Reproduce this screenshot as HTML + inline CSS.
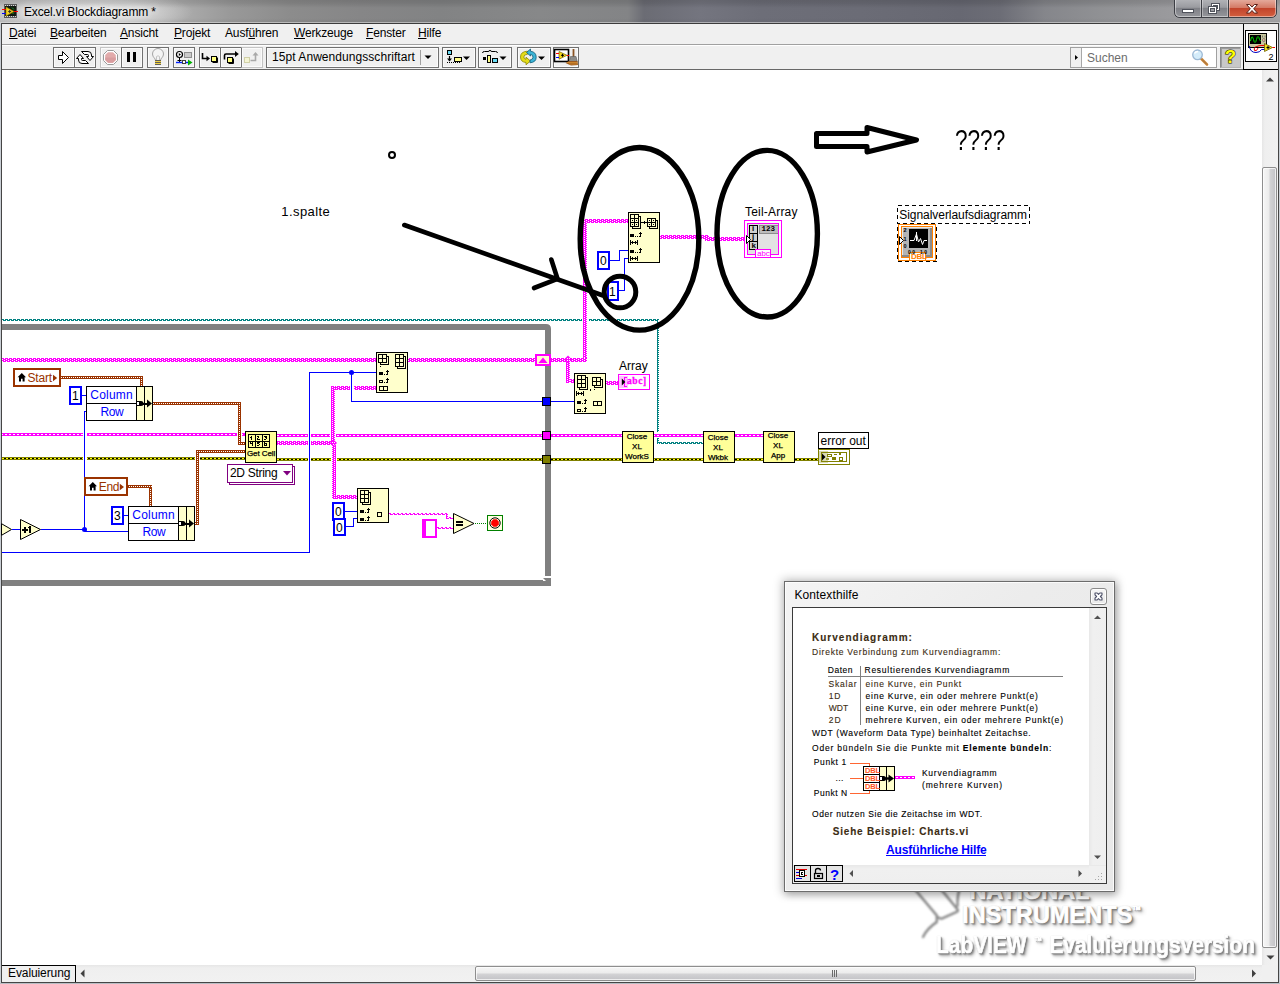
<!DOCTYPE html>
<html lang="de">
<head>
<meta charset="utf-8">
<title>Excel.vi Blockdiagramm</title>
<style>
*{box-sizing:border-box;margin:0;padding:0}
html,body{width:1280px;height:984px;overflow:hidden;background:#fff}
body{position:relative;font-family:"Liberation Sans",sans-serif;font-size:12px;color:#000}
.abs{position:absolute}
.t{position:absolute;white-space:nowrap;line-height:1}
#titlebar{position:absolute;left:0;top:0;width:1280px;height:23px;
 background:
  linear-gradient(to bottom,rgba(0,0,0,.13) 0,rgba(0,0,0,.10) 3px,rgba(0,0,0,0) 8px,rgba(0,0,0,0) 18px,rgba(0,0,0,.06) 23px),
  radial-gradient(ellipse 105px 22px at 88px 12px,rgba(238,238,238,.9) 0,rgba(230,230,230,.6) 55%,rgba(210,210,210,0) 100%),
  linear-gradient(to right,#bdbdbd 0,#b8b8b8 150px,#a9a9a9 190px,#999999 230px,#8c8c8c 290px,#868687 360px,#828384 440px,#878889 540px,#838486 628px,#6b6c74 644px,#74757f 700px,#6d6e78 760px,#6b6c76 860px,#676872 960px,#6c6d76 1000px,#85868b 1045px,#909194 1100px,#9a9a9d 1170px,#a5a5a7 1280px);
}
#tbline1{position:absolute;left:0;top:22px;width:1280px;height:1px;background:rgba(230,230,230,.55)}
#tbline2{position:absolute;left:1px;top:23px;width:1278px;height:1px;background:#3c3c3c}
#lborder0{position:absolute;left:0;top:23px;width:1px;height:961px;background:#c9ced4}
#lborder1{position:absolute;left:1px;top:23px;width:1px;height:961px;background:#454545}
#rborder1{position:absolute;left:1278px;top:23px;width:1px;height:961px;background:#454545}
#rborder0{position:absolute;left:1279px;top:23px;width:1px;height:961px;background:#c9ced4}
#bborder{position:absolute;left:1px;top:982px;width:1278px;height:1px;background:#454545}
#bborder2{position:absolute;left:0;top:983px;width:1280px;height:1px;background:#b9bec4}
#menubar{position:absolute;left:2px;top:24px;width:1276px;height:20px;background:#f0f0f0}
#menusep{position:absolute;left:2px;top:44px;width:1241px;height:1px;background:#a0a0a0}
#menusep2{position:absolute;left:2px;top:45px;width:1241px;height:1px;background:#fff}
#toolbar{position:absolute;left:2px;top:46px;width:1276px;height:23px;background:#f0f0f0}
#tbsep{position:absolute;left:2px;top:69px;width:1276px;height:1px;background:#686868}
.menu{position:absolute;top:27px;font-size:12px;line-height:1;white-space:nowrap;letter-spacing:-.15px}
.menu u{text-decoration:underline;text-underline-offset:1px;text-decoration-thickness:1px}
.btn{position:absolute;top:47px;height:21px;border:1px solid #707070;background:#f0f0f0;box-shadow:inset 1px 1px 0 #fbfbfb,inset -1px -1px 0 #fbfbfb}
.btn.dis{border-color:#c4c4c4}
.wmt{font-weight:bold;color:#fff;-webkit-text-stroke:.7px #fff;text-shadow:1px 1px 1px #7a7a7a,2px 2px 2px #8a8a8a,3px 3px 4px #b0b0b0,0 0 1px #b4b4b4}
</style>
</head>
<body>
<!-- ===== window chrome ===== -->
<div id="titlebar"></div>
<div id="tbline1"></div><div id="tbline2"></div>
<div id="lborder0"></div><div id="lborder1"></div><div id="rborder1"></div><div id="rborder0"></div>
<div id="menubar"></div><div id="menusep"></div><div id="menusep2"></div>
<div id="toolbar"></div><div id="tbsep"></div>
<!-- title icon + text + buttons -->
<svg class="abs" style="left:0;top:0" width="1280" height="24" viewBox="0 0 1280 24">
 <g shape-rendering="crispEdges">
  <rect x="4" y="4" width="13" height="14" fill="#585858"/>
  <rect x="5" y="6" width="11" height="10" fill="#101810"/>
  <g fill="#d8d8d8"><rect x="5" y="5" width="1" height="1"/><rect x="7" y="5" width="1" height="1"/><rect x="9" y="5" width="1" height="1"/><rect x="11" y="5" width="1" height="1"/><rect x="13" y="5" width="1" height="1"/><rect x="15" y="5" width="1" height="1"/>
  <rect x="5" y="16" width="1" height="1"/><rect x="7" y="16" width="1" height="1"/><rect x="9" y="16" width="1" height="1"/><rect x="11" y="16" width="1" height="1"/><rect x="13" y="16" width="1" height="1"/><rect x="15" y="16" width="1" height="1"/></g>
  <rect x="2" y="9" width="4" height="1" fill="#ff0000"/><rect x="2" y="13" width="4" height="1" fill="#0000ff"/>
  <rect x="14" y="11" width="4" height="1" fill="#ff0000"/>
 </g>
 <path d="M6 7 L14 11.5 L6 16 Z" fill="#f0d020" stroke="#a08000" stroke-width=".6"/>
 <path d="M8.2 11.5h3M9.7 10v3" stroke="#303030" stroke-width="1"/>
 <path d="M12 7.5l2 2M12.5 14l1.5-1.5" stroke="#18a018" stroke-width="1"/>
 <!-- caption buttons -->
 <defs>
  <linearGradient id="cbg" x1="0" y1="0" x2="0" y2="1"><stop offset="0" stop-color="#b4b5b9"/><stop offset=".45" stop-color="#9a9ba0"/><stop offset=".5" stop-color="#7f8086"/><stop offset="1" stop-color="#96979c"/></linearGradient>
  <linearGradient id="cbr" x1="0" y1="0" x2="0" y2="1"><stop offset="0" stop-color="#e4a99b"/><stop offset=".45" stop-color="#d47a66"/><stop offset=".5" stop-color="#c2442c"/><stop offset="1" stop-color="#d3603f"/></linearGradient>
 </defs>
 <path d="M1174.5 -1 V12 Q1174.5 17.5 1180 17.5 H1271 Q1276.5 17.5 1276.5 12 V-1 Z" fill="url(#cbg)" stroke="#3d3e44" stroke-width="1"/>
 <path d="M1228.5 0 H1276 V12 Q1276 17 1271 17 H1228.5 Z" fill="url(#cbr)"/>
 <path d="M1175.5 0 V12 Q1175.5 16.5 1180 16.5 H1271 Q1275.500 16.500 1275.500 12 V0" fill="none" stroke="rgba(255,255,255,.45)" stroke-width="1"/>
 <path d="M1201.500 0 V17 M1228.500 0 V17" stroke="#3d3e44" stroke-width="1"/>
 <path d="M1202.500 0 V16 M1229.500 0 V16 M1200.500 0 V16 M1227.500 0 V16" stroke="rgba(255,255,255,.35)" stroke-width="1"/>
 <rect x="1182.500" y="9.500" width="11" height="3" fill="#fff" stroke="#50535c" stroke-width="1"/>
 <g fill="none" stroke="#50535c" stroke-width="1"><rect x="1211.500" y="3.500" width="8" height="7" fill="#fff"/><rect x="1213.500" y="5.500" width="4" height="3" fill="#9c9da2"/>
 <rect x="1208.500" y="6.500" width="8" height="7" fill="#fff"/><rect x="1210.500" y="8.500" width="4" height="3" fill="#9c9da2"/></g>
 <path d="M1246.500 4.500 h3.200 l2.300 2.600 l2.300 -2.600 h3.200 l-3.800 4.300 l3.800 4.300 h-3.200 l-2.300 -2.600 l-2.300 2.600 h-3.200 l3.800 -4.300 z" fill="#fff" stroke="#5a2018" stroke-width="1" stroke-linejoin="round"/>
</svg>
<div class="t" style="left:24px;top:6px;font-size:12px;letter-spacing:-.15px;color:#000;text-shadow:0 0 6px rgba(255,255,255,.9),0 0 10px rgba(255,255,255,.7)">Excel.vi Blockdiagramm *</div>

<div class="menu" id="m_Dat" style="left:9px"><u>D</u>atei</div>
<div class="menu" id="m_Bea" style="left:50px"><u>B</u>earbeiten</div>
<div class="menu" id="m_Ans" style="left:120px"><u>A</u>nsicht</div>
<div class="menu" id="m_Pro" style="left:174px"><u>P</u>rojekt</div>
<div class="menu" id="m_Aus" style="left:225px">Ausf<u>ü</u>hren</div>
<div class="menu" id="m_Wer" style="left:294px"><u>W</u>erkzeuge</div>
<div class="menu" id="m_Fen" style="left:366px"><u>F</u>enster</div>
<div class="menu" id="m_Hil" style="left:418px"><u>H</u>ilfe</div>

<!-- toolbar buttons -->
<div class="btn" style="left:53px;width:22px"></div><div class="btn" style="left:74px;width:22px"></div>
<div class="btn dis" style="left:100px;width:22px"></div><div class="btn" style="left:121px;width:22px"></div>
<div class="btn" style="left:147px;width:22px"></div><div class="btn" style="left:173px;width:22px"></div>
<div class="btn" style="left:199px;width:22px"></div><div class="btn" style="left:220px;width:22px"></div><div class="btn dis" style="left:241px;width:22px;border-left-color:#707070"></div>
<div class="btn" style="left:266px;width:173px"></div>
<div class="btn" style="left:442px;width:34px"></div><div class="btn" style="left:478px;width:34px"></div>
<div class="btn" style="left:517px;width:34px"></div><div class="btn" style="left:553px;width:26px"></div>
<div class="t" id="fonttxt" style="left:272px;top:51px;font-size:12px;letter-spacing:.06px">15pt Anwendungsschriftart</div>
<div class="abs" style="left:1070px;top:47px;width:147px;height:21px;border:1px solid #a0a0a0;background:#fff"></div>
<div class="abs" style="left:1071px;top:48px;width:11px;height:19px;background:#f0f0f0;border-right:1px solid #a8a8a8"></div>
<div class="t" style="left:1087px;top:52px;font-size:12px;color:#6d6d6d">Suchen</div>
<div class="abs" style="left:1220px;top:47px;width:21px;height:21px;background:#c8c8c8;border:1px solid;border-color:#8a8a8a #b4b4b4 #b4b4b4 #8a8a8a;box-shadow:inset 1px 1px 0 #9c9c9c"></div>
<div class="abs" style="left:1243px;top:24px;width:35px;height:46px;background:#f0f0f0;border-left:1px solid #000;border-bottom:1px solid #000"></div>
<div class="abs" style="left:1245px;top:30px;width:32px;height:32px;background:#fff;border:1px solid #000"></div>
<svg class="abs" style="left:0;top:24px" width="1280" height="48" viewBox="0 24 1280 48">
 <!-- run -->
 <path d="M58.500 55.500 H62.500 V51.500 L68.500 57.500 L62.500 63.500 V59.500 H58.500 Z" fill="#fff" stroke="#000" stroke-width="1"/>
 <!-- run continuously -->
 <path d="M81.500 51.500 H88 Q91.500 51.500 91.500 55 V56.500 H93.500 L90 60.500 L86.500 56.500 H88.500 V55.500 Q88.500 54.500 87.500 54.500 H84.500 Z" fill="#fff" stroke="#000" stroke-width="1" stroke-linejoin="round"/>
 <path d="M88.500 63.500 H82 Q78.500 63.500 78.500 60 V58.500 H76.500 L80 54.500 L83.500 58.500 H81.500 V59.500 Q81.500 60.500 82.500 60.500 H85.500 Z" fill="#fff" stroke="#000" stroke-width="1" stroke-linejoin="round"/>
 <!-- abort (disabled) -->
 <path d="M107.500 50.500 H113.500 L117.500 54.500 V60.500 L113.500 64.500 H107.500 L103.500 60.500 V54.500 Z" fill="#fff" stroke="#9a9a9a" stroke-width="1"/>
 <path d="M108 52.200 H113 L115.800 55 V60 L113 62.800 H108 L105.200 60 V55 Z" fill="#e2abab"/>
 <path d="M105.200 57.500 H115.800 V60 L113 62.800 H108 L105.200 60 Z" fill="#d99d9f"/>
 <!-- pause -->
 <rect x="127" y="52" width="3" height="10" fill="#000"/><rect x="133" y="52" width="3" height="10" fill="#000"/>
 <!-- bulb -->
 <path d="M155.500 60.500 C155.500 58 152.500 57.500 152.500 54 A5.500 5.500 0 0 1 163.500 54 C163.500 57.500 160.500 58 160.500 60.500 Z" fill="#f4f4f4" stroke="#a4a4a4" stroke-width="1"/>
 <path d="M156.500 60 V56.500 Q158 55 159.500 56.500 V60" fill="none" stroke="#c4c4c4" stroke-width="1"/>
 <rect x="155" y="60" width="6" height="5" fill="#60605c"/><rect x="155" y="61" width="6" height="1" fill="#f0d040"/><rect x="155" y="63" width="6" height="1" fill="#f0d040"/>
 <!-- retain wire values -->
 <circle cx="179.500" cy="54.500" r="3" fill="#fff" stroke="#000" stroke-width="1.200"/>
 <path d="M178.800 53 L181 54.500 L178.800 56 Z" fill="#000"/>
 <path d="M179.500 57.500 V62 M177.500 60.500 H181.500" stroke="#000" stroke-width="1"/>
 <path d="M176 62.500 H190" stroke="#0020ff" stroke-width="1.400"/>
 <rect x="182.500" y="60.500" width="3" height="3" fill="#fff" stroke="#404040" stroke-width="1"/>
 <path d="M188 59.500 L192.500 62.500 L188 65.500 Z" fill="#00b000"/>
 <rect x="184.500" y="52.500" width="7" height="5" fill="#cacaca" stroke="#909090" stroke-width="1"/>
 <!-- step into -->
 <path d="M202.500 53 V58.500 H207" fill="none" stroke="#000" stroke-width="1.600"/><path d="M206.500 55.800 L210 58.500 L206.500 61.200 Z" fill="#000"/>
 <rect x="211.500" y="56.500" width="5" height="5" fill="#ffff80" stroke="#000" stroke-width="1"/><path d="M212.500 62.500 H217.500 V57.500" fill="none" stroke="#000" stroke-width="1"/>
 <!-- step over -->
 <path d="M224.500 59.500 V55.500 Q224.500 54 226 54 H236" fill="none" stroke="#000" stroke-width="1.600"/><path d="M235 51 L238.800 54 L235 57 Z" fill="#000"/>
 <rect x="227.500" y="57.500" width="5" height="5" fill="#ffff80" stroke="#000" stroke-width="1"/><path d="M228.500 63.500 H233.500 V58.500" fill="none" stroke="#000" stroke-width="1"/>
 <!-- step out disabled -->
 <rect x="244.500" y="57.500" width="5" height="5" fill="#f4f4d4" stroke="#d0d0a8" stroke-width="1"/>
 <path d="M250.500 60.500 H255.500 V55" fill="none" stroke="#a8a8a8" stroke-width="1.600"/><path d="M252.500 55.500 L255.500 52 L258.500 55.500 Z" fill="#a8a8a8"/>
 <!-- font dropdown -->
 <path d="M420.500 50 V65" stroke="#a0a0a0" stroke-width="1"/><path d="M424.500 55.500 H431.500 L428 59 Z" fill="#000"/>
 <!-- align -->
 <rect x="447.500" y="50.500" width="4" height="4" fill="#66d9f2" stroke="#000" stroke-width="1"/>
 <path d="M449.500 56 V61" stroke="#000" stroke-width="1.200"/><path d="M447 58.500 H452 L449.500 61.500 Z" fill="#000"/>
 <path d="M447 62.500 H460" stroke="#000" stroke-width="1" stroke-dasharray="1 1"/>
 <rect x="454.500" y="57.500" width="7" height="4" fill="#ffff8a" stroke="#000" stroke-width="1"/>
 <path d="M463 56.500 H470 L466.500 60 Z" fill="#000"/>
 <!-- distribute -->
 <path d="M482.500 53 Q482.500 51.500 484.500 51.500 H488 Q489.500 51.500 490 50 Q490.500 51.500 492 51.500 H495.500 Q497.500 51.500 497.500 53" fill="none" stroke="#000" stroke-width="1"/>
 <rect x="483" y="57" width="3" height="3" fill="#000"/>
 <rect x="487.500" y="55.500" width="3" height="7" fill="#ffff8a" stroke="#000" stroke-width="1"/>
 <rect x="492.500" y="58.500" width="5" height="4" fill="#66d9f2" stroke="#000" stroke-width="1"/>
 <path d="M499.500 56.500 H506.500 L503 60 Z" fill="#000"/>
 <!-- reorder -->
 <path d="M527.500 51.200 Q520.500 51.500 520.500 57 Q520.500 62 526 62.500 V64.800 L530.500 61 L526 57.200 V59.300 Q523.800 59 523.800 57 Q523.800 54.500 527.500 54.300 Z" fill="#e4dc18" stroke="#8a8400" stroke-width=".8" stroke-linejoin="round"/>
 <path d="M530.500 49 L526.500 52.500 L530.500 56 V54.300 Q533 54.800 533 57.200 Q533 59.600 530 60 V62.800 Q536.200 62.300 536.200 57.200 Q536.200 52 530.500 51.200 Z" fill="#3cb4d6" stroke="#0c5c78" stroke-width=".8" stroke-linejoin="round"/>
 <path d="M538 56.500 H545 L541.500 60 Z" fill="#000"/>
 <!-- cleanup -->
 <rect x="554.500" y="49.500" width="14" height="12" fill="#fff" stroke="#000" stroke-width="1.600"/>
 <path d="M559 51.500 L567 55.300 L559 59.200 Z" fill="#f2d81c" stroke="#7c6400" stroke-width=".7"/>
 <path d="M556 53.500 H559" stroke="#f00" stroke-width="1"/><path d="M556 57.500 H559" stroke="#00f" stroke-width="1"/><path d="M567 55.500 H569" stroke="#f00" stroke-width="1"/>
 <path d="M561 55.300h3M562.500 53.800v3" stroke="#000" stroke-width="1"/>
 <path d="M573.500 49 V57" stroke="#8a5424" stroke-width="1.800"/>
 <path d="M570.500 56.500 H576 L577.300 61.500 L569 62 Z" fill="#8c8c8a" stroke="#5a5a5a" stroke-width=".6"/>
 <path d="M569 61 L577.500 61 L578 65 L571 65.500 L565.500 63 Z" fill="#9c5a20"/>
 <path d="M567 62.500 L577 62.500 M569 64 L577.500 64" stroke="#d89030" stroke-width=".8"/>
 <!-- search arrow + magnifier -->
 <path d="M1075 55 L1078 57.500 L1075 60 Z" fill="#000"/>
 <path d="M1201 58.500 L1207 64.500" stroke="#d08838" stroke-width="2.600" stroke-linecap="round"/>
 <path d="M1201.800 59.300 L1207 64.500" stroke="#8a6a48" stroke-width=".8"/>
 <circle cx="1197.500" cy="54.800" r="4.800" fill="#d4ecfa" stroke="#9cb8d4" stroke-width="1.300"/>
 <path d="M1194.500 53.500 Q1195.500 51.500 1198 51.500" stroke="#fff" stroke-width="1.400" fill="none"/>
 <!-- help ? -->
 <text x="1230.500" y="63.300" font-family="Liberation Sans, sans-serif" font-weight="bold" font-size="18.500" text-anchor="middle" fill="#ffff00" stroke="#202000" stroke-width="1.100" paint-order="stroke">?</text>
 <!-- VI icon -->
 <rect x="1248.500" y="33.500" width="18" height="14" fill="#c8c8a0" stroke="#000" stroke-width="1"/>
 <rect x="1250" y="35" width="11" height="9" fill="#000"/>
 <path d="M1250.500 41 Q1252 33.500 1253.500 39.500 Q1255 45.500 1256.500 39.500 Q1258 33.500 1259.500 39.500 L1260.500 41" fill="none" stroke="#00e000" stroke-width="1"/>
 <ellipse cx="1263.800" cy="40" rx="1.200" ry="1.700" fill="#f0c0a0" stroke="#505050" stroke-width=".6"/><path d="M1262.500 35.500v2M1265 35.500v2" stroke="#505050" stroke-width=".7"/>
 <path d="M1249.500 46 Q1250 52.500 1256 52.500 Q1260 52.500 1261.500 49.500 H1265" fill="none" stroke="#0000c0" stroke-width="1"/>
 <path d="M1254.500 50.500 Q1253.500 47 1257 46.500 Q1259 45.500 1261 45.500 H1265 M1254.500 50.500 Q1257 51.500 1258 48" fill="none" stroke="#f00000" stroke-width="1"/>
 <path d="M1264.500 43.500 L1272.500 47.500 L1264.500 51.500 Z" fill="#f0e020" stroke="#706000" stroke-width=".8"/>
 <path d="M1266.500 47.500h3M1268 46v3" stroke="#000" stroke-width="1"/>
 <path d="M1272.500 47.500 H1275" stroke="#f00000" stroke-width="1"/>
 <text x="1268.500" y="59.500" font-family="Liberation Sans, sans-serif" font-size="9" fill="#000">2</text>
</svg>

<!-- scrollbars -->
<div class="abs" style="left:1262px;top:70px;width:16px;height:895px;background:linear-gradient(to right,#e6e6e6 0,#efefef 3px,#f1f1f1 100%)"></div>
<div class="abs" style="left:1262px;top:167px;width:15px;height:781px;border:1px solid #8e8e8e;border-radius:2px;background:linear-gradient(to right,#f6f6f6 0,#ececec 45%,#d2d2d4 55%,#c2c2c6 100%);box-shadow:inset 0 0 0 1px rgba(255,255,255,.7)"></div>
<div class="abs" style="left:2px;top:965px;width:1276px;height:17px;background:linear-gradient(to bottom,#e6e6e6 0,#efefef 3px,#f1f1f1 100%)"></div>
<div class="abs" style="left:1262px;top:965px;width:16px;height:17px;background:#f0f0f0"></div>
<div class="abs" style="left:475px;top:966px;width:721px;height:15px;border:1px solid #8e8e8e;border-radius:2px;background:linear-gradient(to bottom,#f6f6f6 0,#ececec 45%,#d2d2d4 55%,#c2c2c6 100%);box-shadow:inset 0 0 0 1px rgba(255,255,255,.7)"></div>
<div class="abs" style="left:2px;top:965px;width:74px;height:17px;background:#f0f0f0;border-top:1px solid #000;border-right:1px solid #000"></div>
<div class="t" id="evaltxt" style="left:8px;top:967px;font-size:12px;letter-spacing:-.1px">Evaluierung</div>
<svg class="abs" style="left:0;top:70px" width="1280" height="914" viewBox="0 70 1280 914">
 <path d="M1266 81.500 L1270 77.500 L1274 81.500 Z" fill="#404040"/>
 <path d="M1266.500 955.500 L1274.500 955.500 L1270.500 959.500 Z" fill="#404040"/>
 <path d="M84.500 969.500 L80.500 973.500 L84.500 977.500 Z" fill="#404040"/>
 <path d="M1252 969.500 L1256 973.500 L1252 977.500 Z" fill="#404040"/>
 <path d="M832.500 970 V977 M834.500 970 V977 M836.500 970 V977" stroke="#6a6a6a" stroke-width="1"/>
</svg>

<!--DIAGRAM-START-->
<svg class="abs" style="left:0;top:70px" width="1262" height="895" viewBox="0 70 1262 895" shape-rendering="crispEdges">
<defs>
<pattern id="p2h0" width="4" height="2" patternUnits="userSpaceOnUse"><rect width="4" height="2" fill="#ff00ff"/><rect x="0" y="0" width="1" height="1" fill="#fff"/><rect x="2" y="1" width="1" height="1" fill="#fff"/></pattern>
<pattern id="p2h1" width="4" height="2" patternUnits="userSpaceOnUse" patternTransform="translate(0 1)"><rect width="4" height="2" fill="#ff00ff"/><rect x="0" y="0" width="1" height="1" fill="#fff"/><rect x="2" y="1" width="1" height="1" fill="#fff"/></pattern>
<pattern id="p2v" width="2" height="4" patternUnits="userSpaceOnUse"><rect width="2" height="4" fill="#ff00ff"/><rect x="0" y="0" width="1" height="1" fill="#fff"/><rect x="1" y="2" width="1" height="1" fill="#fff"/></pattern>
<pattern id="pth" width="4" height="2" patternUnits="userSpaceOnUse" patternTransform="translate(0 1)"><rect width="4" height="2" fill="#008080"/><rect x="0" y="0" width="1" height="1" fill="#fff"/><rect x="2" y="1" width="1" height="1" fill="#fff"/></pattern>
<pattern id="ptv" width="2" height="2" patternUnits="userSpaceOnUse" patternTransform="translate(1 0)"><rect width="2" height="2" fill="#008080"/><rect x="1" y="1" width="1" height="1" fill="#fff"/></pattern>
<pattern id="psh" width="4" height="2" patternUnits="userSpaceOnUse" patternTransform="translate(1 1)"><rect width="4" height="2" fill="#fff"/><rect x="0" y="0" width="2" height="1" fill="#ff00ff"/><rect x="1" y="1" width="1" height="1" fill="#ff00ff"/><rect x="2" y="1" width="2" height="1" fill="#ff00ff"/><rect x="3" y="0" width="1" height="1" fill="#ff00ff" opacity=".0"/></pattern>
<pattern id="psv" width="2" height="2" patternUnits="userSpaceOnUse"><rect width="2" height="2" fill="#ff00ff"/><rect x="1" y="1" width="1" height="1" fill="#fff"/></pattern>
<pattern id="p2v3" width="4" height="2" patternUnits="userSpaceOnUse" patternTransform="translate(3 0)"><rect width="4" height="2" fill="#ff00ff"/><rect x="1" y="1" width="1" height="1" fill="#fff"/><rect x="3" y="0" width="1" height="1" fill="#fff"/></pattern>
<pattern id="p2v2" width="4" height="2" patternUnits="userSpaceOnUse" patternTransform="translate(2 0)"><rect width="4" height="2" fill="#ff00ff"/><rect x="1" y="1" width="1" height="1" fill="#fff"/><rect x="3" y="0" width="1" height="1" fill="#fff"/></pattern>
<pattern id="p2v0m" width="4" height="2" patternUnits="userSpaceOnUse" patternTransform="translate(0 0)"><rect width="4" height="2" fill="#ff00ff"/><rect x="2" y="1" width="1" height="1" fill="#fff"/><rect x="0" y="0" width="1" height="1" fill="#fff"/></pattern>
</defs>
<rect x="2" y="319" width="580" height="2" fill="url(#pth)"/>
<rect x="589" y="319" width="70" height="2" fill="url(#pth)"/>
<rect x="657" y="321" width="2" height="111" fill="url(#ptv)"/>
<rect x="657" y="438" width="2" height="6" fill="url(#ptv)"/>
<rect x="659" y="442" width="44" height="2" fill="url(#pth)"/>
<rect x="2" y="358" width="374" height="4" fill="url(#p2h0)"/>
<rect x="408" y="358" width="127" height="4" fill="url(#p2h0)"/>
<rect x="551" y="358" width="36" height="4" fill="url(#p2h0)"/>
<rect x="583" y="219" width="4" height="139" fill="url(#p2v3)"/>
<rect x="587" y="219" width="41" height="4" fill="url(#p2h1)"/>
<rect x="660" y="235" width="49" height="4" fill="url(#p2h1)"/>
<rect x="705" y="237" width="39" height="4" fill="url(#p2h1)"/>
<rect x="566" y="362" width="4" height="21" fill="url(#p2v2)"/>
<rect x="570" y="379" width="4" height="4" fill="url(#p2h1)"/>
<path d="M564 359.500 L568 355.500 L572 359.500 L568 363.500 Z" fill="#ff00ff" shape-rendering="auto"/>
<rect x="606" y="381" width="12" height="4" fill="url(#p2h1)"/>
<rect x="567" y="358" width="1" height="1" fill="#fff"/>
<rect x="569" y="360" width="1" height="1" fill="#fff"/>
<rect x="567" y="360" width="1" height="1" fill="#fff"/>
<rect x="569" y="358" width="1" height="1" fill="#fff"/>
<rect x="2" y="433" width="81" height="3" fill="#ff00ff"/>
<path d="M2 434.5 H83" stroke="#fff" stroke-width="1" stroke-dasharray="2 2" stroke-dashoffset="1"/>
<rect x="87" y="433" width="150" height="3" fill="#ff00ff"/>
<path d="M87 434.5 H237" stroke="#fff" stroke-width="1" stroke-dasharray="2 2" stroke-dashoffset="2"/>
<rect x="242" y="433" width="3" height="3" fill="#ff00ff"/>
<path d="M242 434.5 H245" stroke="#fff" stroke-width="1" stroke-dasharray="2 2" stroke-dashoffset="1"/>
<rect x="277" y="434" width="31" height="3" fill="#ff00ff"/>
<path d="M277 435.5 H308" stroke="#fff" stroke-width="1" stroke-dasharray="2 2" stroke-dashoffset="0"/>
<rect x="311" y="434" width="19" height="3" fill="#ff00ff"/>
<path d="M311 435.5 H330" stroke="#fff" stroke-width="1" stroke-dasharray="2 2" stroke-dashoffset="2"/>
<rect x="336" y="434" width="206" height="3" fill="#ff00ff"/>
<path d="M336 435.5 H542" stroke="#fff" stroke-width="1" stroke-dasharray="2 2" stroke-dashoffset="3"/>
<rect x="551" y="434" width="71" height="3" fill="#ff00ff"/>
<path d="M551 435.5 H622" stroke="#fff" stroke-width="1" stroke-dasharray="2 2" stroke-dashoffset="2"/>
<rect x="654" y="434" width="49" height="3" fill="#ff00ff"/>
<path d="M654 435.5 H703" stroke="#fff" stroke-width="1" stroke-dasharray="2 2" stroke-dashoffset="1"/>
<rect x="735" y="434" width="28" height="3" fill="#ff00ff"/>
<path d="M735 435.5 H763" stroke="#fff" stroke-width="1" stroke-dasharray="2 2" stroke-dashoffset="2"/>
<rect x="277" y="441" width="31" height="4" fill="url(#p2h1)"/>
<rect x="311" y="441" width="24" height="4" fill="url(#p2h1)"/>
<rect x="331" y="386" width="4" height="55" fill="url(#p2v3)"/>
<rect x="335" y="386" width="15" height="4" fill="url(#p2h0)"/>
<rect x="354" y="386" width="22" height="4" fill="url(#p2h0)"/>
<rect x="332" y="445" width="4" height="54" fill="url(#p2v0m)"/>
<rect x="336" y="495" width="21" height="4" fill="url(#p2h1)"/>
<path d="M330 443 L333.500 439.500 L337 443 L333.500 446.500 Z" fill="#ff00ff" shape-rendering="auto"/>
<rect x="332" y="442" width="1" height="1" fill="#fff"/>
<rect x="334" y="442" width="1" height="1" fill="#fff"/>
<rect x="333" y="444" width="1" height="1" fill="#fff"/>
<rect x="2" y="457" width="81" height="3" fill="#808000"/>
<rect x="2" y="458" width="81" height="1" fill="#000"/>
<path d="M2 458.5 H83" stroke="#ffff00" stroke-width="1" stroke-dasharray="2 2" stroke-dashoffset="0"/>
<rect x="87" y="457" width="108" height="3" fill="#808000"/>
<rect x="87" y="458" width="108" height="1" fill="#000"/>
<path d="M87 458.5 H195" stroke="#ffff00" stroke-width="1" stroke-dasharray="2 2" stroke-dashoffset="1"/>
<rect x="200" y="457" width="45" height="3" fill="#808000"/>
<rect x="200" y="458" width="45" height="1" fill="#000"/>
<path d="M200 458.5 H245" stroke="#ffff00" stroke-width="1" stroke-dasharray="2 2" stroke-dashoffset="2"/>
<rect x="277" y="458" width="31" height="3" fill="#808000"/>
<rect x="277" y="459" width="31" height="1" fill="#000"/>
<path d="M277 459.5 H308" stroke="#ffff00" stroke-width="1" stroke-dasharray="2 2" stroke-dashoffset="0"/>
<rect x="311" y="458" width="20" height="3" fill="#808000"/>
<rect x="311" y="459" width="20" height="1" fill="#000"/>
<path d="M311 459.5 H331" stroke="#ffff00" stroke-width="1" stroke-dasharray="2 2" stroke-dashoffset="2"/>
<rect x="337" y="458" width="205" height="3" fill="#808000"/>
<rect x="337" y="459" width="205" height="1" fill="#000"/>
<path d="M337 459.5 H542" stroke="#ffff00" stroke-width="1" stroke-dasharray="2 2" stroke-dashoffset="0"/>
<rect x="551" y="458" width="71" height="3" fill="#808000"/>
<rect x="551" y="459" width="71" height="1" fill="#000"/>
<path d="M551 459.5 H622" stroke="#ffff00" stroke-width="1" stroke-dasharray="2 2" stroke-dashoffset="2"/>
<rect x="654" y="458" width="49" height="3" fill="#808000"/>
<rect x="654" y="459" width="49" height="1" fill="#000"/>
<path d="M654 459.5 H703" stroke="#ffff00" stroke-width="1" stroke-dasharray="2 2" stroke-dashoffset="1"/>
<rect x="735" y="458" width="28" height="3" fill="#808000"/>
<rect x="735" y="459" width="28" height="1" fill="#000"/>
<path d="M735 459.5 H763" stroke="#ffff00" stroke-width="1" stroke-dasharray="2 2" stroke-dashoffset="2"/>
<rect x="795" y="458" width="23" height="3" fill="#808000"/>
<rect x="795" y="459" width="23" height="1" fill="#000"/>
<path d="M795 459.5 H818" stroke="#ffff00" stroke-width="1" stroke-dasharray="2 2" stroke-dashoffset="2"/>
<rect x="61" y="376" width="82" height="3" fill="#9a3300"/>
<path d="M61 377.5 H143" stroke="#fff" stroke-width="1" stroke-dasharray="1 1" stroke-dashoffset="0"/>
<rect x="140" y="379" width="3" height="7" fill="#9a3300"/>
<path d="M141.5 379 V386" stroke="#fff" stroke-width="1" stroke-dasharray="1 1" stroke-dashoffset="0"/>
<rect x="153" y="402" width="88" height="3" fill="#9a3300"/>
<path d="M153 403.5 H241" stroke="#fff" stroke-width="1" stroke-dasharray="1 1" stroke-dashoffset="0"/>
<rect x="238" y="405" width="3" height="40" fill="#9a3300"/>
<path d="M239.5 405 V445" stroke="#fff" stroke-width="1" stroke-dasharray="1 1" stroke-dashoffset="0"/>
<rect x="241" y="442" width="4" height="3" fill="#9a3300"/>
<path d="M241 443.5 H245" stroke="#fff" stroke-width="1" stroke-dasharray="1 1" stroke-dashoffset="0"/>
<rect x="128" y="485" width="24" height="3" fill="#9a3300"/>
<path d="M128 486.5 H152" stroke="#fff" stroke-width="1" stroke-dasharray="1 1" stroke-dashoffset="1"/>
<rect x="149" y="488" width="3" height="18" fill="#9a3300"/>
<path d="M150.5 488 V506" stroke="#fff" stroke-width="1" stroke-dasharray="1 1" stroke-dashoffset="1"/>
<rect x="195" y="522" width="4" height="3" fill="#9a3300"/>
<path d="M195 523.5 H199" stroke="#fff" stroke-width="1" stroke-dasharray="1 1" stroke-dashoffset="0"/>
<rect x="196" y="450" width="3" height="72" fill="#9a3300"/>
<path d="M197.5 450 V522" stroke="#fff" stroke-width="1" stroke-dasharray="1 1" stroke-dashoffset="1"/>
<rect x="199" y="450" width="46" height="3" fill="#9a3300"/>
<path d="M199 451.5 H245" stroke="#fff" stroke-width="1" stroke-dasharray="1 1" stroke-dashoffset="0"/>
<rect x="82" y="395" width="4" height="1" fill="#0000ff"/>
<rect x="84" y="411" width="1" height="119" fill="#0000ff"/>
<rect x="85" y="411" width="1" height="1" fill="#0000ff"/>
<rect x="12" y="529" width="8" height="1" fill="#0000ff"/>
<rect x="41" y="529" width="44" height="1" fill="#0000ff"/>
<circle cx="84.5" cy="529.5" r="2.5" fill="#0000ff" shape-rendering="auto"/>
<rect x="85" y="531" width="43" height="1" fill="#0000ff"/>
<rect x="85" y="530" width="1" height="2" fill="#0000ff"/>
<rect x="124" y="515" width="4" height="1" fill="#0000ff"/>
<rect x="2" y="552" width="308" height="1" fill="#0000ff"/>
<rect x="309" y="372" width="1" height="181" fill="#0000ff"/>
<rect x="309" y="372" width="67" height="1" fill="#0000ff"/>
<circle cx="351.5" cy="372.5" r="2.5" fill="#0000ff" shape-rendering="auto"/>
<rect x="351" y="373" width="1" height="29" fill="#0000ff"/>
<rect x="351" y="401" width="191" height="1" fill="#0000ff"/>
<rect x="551" y="401" width="23" height="1" fill="#0000ff"/>
<rect x="345" y="511" width="12" height="1" fill="#0000ff"/>
<rect x="346" y="526" width="8" height="1" fill="#0000ff"/>
<rect x="353" y="518" width="1" height="9" fill="#0000ff"/>
<rect x="353" y="518" width="4" height="1" fill="#0000ff"/>
<rect x="610" y="260" width="10" height="1" fill="#0000ff"/>
<rect x="619" y="250" width="1" height="11" fill="#0000ff"/>
<rect x="619" y="250" width="9" height="1" fill="#0000ff"/>
<rect x="624" y="258" width="4" height="1" fill="#0000ff"/>
<rect x="624" y="258" width="1" height="33" fill="#0000ff"/>
<rect x="619" y="290" width="6" height="1" fill="#0000ff"/>
<rect x="389" y="513" width="59" height="2" fill="url(#psh)"/>
<rect x="446" y="514" width="2" height="5" fill="url(#psv)"/>
<rect x="447" y="517" width="6" height="2" fill="url(#psh)"/>
<rect x="437" y="527" width="16" height="2" fill="url(#psh)"/>
<path d="M475 523.500 H487" stroke="#008000" stroke-width="1" stroke-dasharray="1 1"/>
<path d="M2 324 H546 Q551 324 551 329 V576 H545 V330 H2 Z" fill="#808080" shape-rendering="auto"/>
<rect x="2" y="580" width="549" height="6" fill="#808080"/>
<rect x="543" y="578" width="8" height="8" fill="#808080"/>
<path d="M543 578 L546 581 L543 581 Z" fill="#fff" shape-rendering="auto"/>
<rect x="536" y="355" width="14" height="10" fill="#ffffcc" stroke="#ff00ff" stroke-width="2"/>
<path d="M538.500 363 L543 357.500 L547.500 363 Z" fill="#ff00ff" shape-rendering="auto"/>
<rect x="542.5" y="397.5" width="8" height="8" fill="#0000ff" stroke="#000" stroke-width="1"/>
<rect x="542.5" y="431.5" width="8" height="8" fill="#ff00ff" stroke="#000" stroke-width="1"/>
<rect x="542.5" y="455.5" width="8" height="8" fill="#808000" stroke="#000" stroke-width="1"/>
<rect x="14" y="369" width="46" height="17" fill="#fff" stroke="#9a3300" stroke-width="2"/>
<rect x="85" y="478" width="42" height="17" fill="#fff" stroke="#9a3300" stroke-width="2"/>
<path d="M17.6 377.2 l4.200 -4.300 l4.200 4.300 h-1.400 v4.200 h-2 v-2.600 h-1.600 v2.600 h-2 v-4.200 Z" fill="#000" shape-rendering="auto"/>
<path d="M88.6 486.2 l4.200 -4.300 l4.200 4.300 h-1.400 v4.200 h-2 v-2.600 h-1.600 v2.600 h-2 v-4.200 Z" fill="#000" shape-rendering="auto"/>
<path d="M53 374.800 L57.200 378 L53 381.200 Z" fill="#9a3300" shape-rendering="auto"/>
<path d="M119.800 483.800 L124 487 L119.800 490.200 Z" fill="#9a3300" shape-rendering="auto"/>
<rect x="70" y="387" width="11" height="17" fill="#fff" stroke="#0000ff" stroke-width="2"/>
<rect x="112" y="507" width="11" height="17" fill="#fff" stroke="#0000ff" stroke-width="2"/>
<rect x="333" y="503" width="11" height="17" fill="#fff" stroke="#0000ff" stroke-width="2"/>
<rect x="334" y="519" width="11" height="16" fill="#fff" stroke="#0000ff" stroke-width="2"/>
<rect x="598" y="252" width="11" height="17" fill="#fff" stroke="#0000ff" stroke-width="2"/>
<rect x="608" y="282" width="10" height="18" fill="#fff" stroke="#0000ff" stroke-width="2"/>
<rect x="86.5" y="386.5" width="66" height="34" fill="#fff" stroke="#000" stroke-width="1"/>
<rect x="137" y="387" width="15" height="33" fill="#ffffcc"/>
<rect x="136" y="386" width="1" height="35" fill="#000"/>
<rect x="144" y="386" width="1" height="35" fill="#000"/>
<rect x="86" y="403" width="51" height="1" fill="#000"/>
<path d="M137 401 h4 q2.500 0 2.500 2.500 q0 2.500 -2.500 2.500 h-4 Z" fill="#000" shape-rendering="auto"/>
<rect x="137" y="402" width="2" height="3" fill="#fff"/>
<rect x="143" y="402.5" width="6" height="2" fill="#000"/>
<path d="M147 399.5 l5 4 l-5 4 Z" fill="#000" shape-rendering="auto"/>
<rect x="128.5" y="506.5" width="66" height="34" fill="#fff" stroke="#000" stroke-width="1"/>
<rect x="179" y="507" width="15" height="33" fill="#ffffcc"/>
<rect x="178" y="506" width="1" height="35" fill="#000"/>
<rect x="186" y="506" width="1" height="35" fill="#000"/>
<rect x="128" y="523" width="51" height="1" fill="#000"/>
<path d="M179 521 h4 q2.500 0 2.500 2.500 q0 2.500 -2.500 2.500 h-4 Z" fill="#000" shape-rendering="auto"/>
<rect x="179" y="522" width="2" height="3" fill="#fff"/>
<rect x="185" y="522.5" width="6" height="2" fill="#000"/>
<path d="M189 519.5 l5 4 l-5 4 Z" fill="#000" shape-rendering="auto"/>
<path d="M1.500 523.700 L11.500 529.500 L1.500 535.300 Z" fill="#ffffcc" stroke="#000" stroke-width="1" shape-rendering="auto"/>
<path d="M20.500 519.500 L40.500 529.500 L20.500 539.500 Z" fill="#ffffcc" stroke="#000" stroke-width="1" shape-rendering="auto"/>
<rect x="22" y="529" width="6" height="2" fill="#000"/>
<rect x="24" y="527" width="2" height="6" fill="#000"/>
<rect x="29" y="526" width="2" height="7" fill="#000"/>
<rect x="28" y="527" width="1" height="1" fill="#000"/>
<rect x="245.5" y="431.5" width="31" height="31" fill="#ffff99" stroke="#000" stroke-width="1"/>
<path d="M248.5 434 V448M255.5 434 V448M262.5 434 V448M269.5 434 V448M248 434.5 H270M248 441.5 H270M248 447.5 H270" fill="none" stroke="#000" stroke-width="1"/>
<rect x="251" y="436" width="1" height="1" fill="#000"/>
<rect x="250" y="437" width="1" height="1" fill="#000"/>
<rect x="251" y="437" width="1" height="1" fill="#000"/>
<rect x="251" y="438" width="1" height="1" fill="#000"/>
<rect x="251" y="439" width="1" height="1" fill="#000"/>
<rect x="257" y="436" width="1" height="1" fill="#000"/>
<rect x="258" y="436" width="1" height="1" fill="#000"/>
<rect x="258" y="437" width="1" height="1" fill="#000"/>
<rect x="257" y="438" width="1" height="1" fill="#000"/>
<rect x="257" y="439" width="1" height="1" fill="#000"/>
<rect x="258" y="439" width="1" height="1" fill="#000"/>
<rect x="259" y="439" width="1" height="1" fill="#000"/>
<rect x="264" y="436" width="1" height="1" fill="#000"/>
<rect x="265" y="436" width="1" height="1" fill="#000"/>
<rect x="266" y="436" width="1" height="1" fill="#000"/>
<rect x="265" y="437" width="1" height="1" fill="#000"/>
<rect x="266" y="437" width="1" height="1" fill="#000"/>
<rect x="266" y="438" width="1" height="1" fill="#000"/>
<rect x="264" y="439" width="1" height="1" fill="#000"/>
<rect x="265" y="439" width="1" height="1" fill="#000"/>
<rect x="250" y="442" width="1" height="1" fill="#000"/>
<rect x="252" y="442" width="1" height="1" fill="#000"/>
<rect x="250" y="443" width="1" height="1" fill="#000"/>
<rect x="251" y="443" width="1" height="1" fill="#000"/>
<rect x="252" y="443" width="1" height="1" fill="#000"/>
<rect x="252" y="444" width="1" height="1" fill="#000"/>
<rect x="252" y="445" width="1" height="1" fill="#000"/>
<rect x="257" y="442" width="1" height="1" fill="#000"/>
<rect x="258" y="442" width="1" height="1" fill="#000"/>
<rect x="259" y="442" width="1" height="1" fill="#000"/>
<rect x="257" y="443" width="1" height="1" fill="#000"/>
<rect x="258" y="443" width="1" height="1" fill="#000"/>
<rect x="259" y="444" width="1" height="1" fill="#000"/>
<rect x="257" y="445" width="1" height="1" fill="#000"/>
<rect x="258" y="445" width="1" height="1" fill="#000"/>
<rect x="264" y="442" width="1" height="1" fill="#000"/>
<rect x="264" y="443" width="1" height="1" fill="#000"/>
<rect x="265" y="443" width="1" height="1" fill="#000"/>
<rect x="266" y="443" width="1" height="1" fill="#000"/>
<rect x="264" y="444" width="1" height="1" fill="#000"/>
<rect x="266" y="444" width="1" height="1" fill="#000"/>
<rect x="264" y="445" width="1" height="1" fill="#000"/>
<rect x="265" y="445" width="1" height="1" fill="#000"/>
<rect x="266" y="445" width="1" height="1" fill="#000"/>
<rect x="229.5" y="466.5" width="65" height="18" fill="#fff" stroke="#800080" stroke-width="1"/>
<rect x="227.5" y="464.5" width="65" height="18" fill="#fff" stroke="#800080" stroke-width="1"/>
<path d="M283 471 H291 L287 475.500 Z" fill="#800080" shape-rendering="auto"/>
<rect x="376.5" y="352.5" width="31" height="40" fill="#ffffcc" stroke="#000" stroke-width="1"/>
<path d="M387 356.5 H388.5 V364.5 H380.5 V363" fill="none" stroke="#000" stroke-width="1"/>
<rect x="378" y="354" width="9" height="9" fill="#ffffcc"/>
<path d="M378.5 354 V363M382.5 354 V363M386.5 354 V363M378 354.5 H387M378 358.5 H387M378 362.5 H387" fill="none" stroke="#000" stroke-width="1"/>
<path d="M404 356.5 H405.5 V368.5 H397.5 V367" fill="none" stroke="#000" stroke-width="1"/>
<rect x="395" y="354" width="9" height="13" fill="#ffffcc"/>
<path d="M395.5 354 V367M399.5 354 V367M403.5 354 V367M395 354.5 H404M395 358.5 H404M395 362.5 H404M395 366.5 H404" fill="none" stroke="#000" stroke-width="1"/>
<rect x="380" y="366" width="1" height="1" fill="#000"/>
<rect x="379" y="372" width="4" height="3" fill="#000"/>
<rect x="384" y="374" width="1" height="1" fill="#000"/>
<rect x="386" y="374" width="2" height="1" fill="#000"/>
<rect x="387" y="370" width="1" height="5" fill="#000"/>
<rect x="386" y="371" width="3" height="1" fill="#000"/>
<rect x="379.5" y="380.5" width="3" height="2" fill="#ffffcc" stroke="#000" stroke-width="1"/>
<rect x="384" y="382" width="1" height="1" fill="#000"/>
<rect x="386" y="382" width="2" height="1" fill="#000"/>
<rect x="387" y="378" width="1" height="5" fill="#000"/>
<rect x="386" y="379" width="3" height="1" fill="#000"/>
<rect x="379.5" y="386.5" width="8" height="4" fill="#ffffcc" stroke="#000" stroke-width="1"/>
<rect x="383" y="386" width="1" height="5" fill="#000"/>
<rect x="574.5" y="373.5" width="31" height="40" fill="#ffffcc" stroke="#000" stroke-width="1"/>
<path d="M586 377.5 H587.5 V389.5 H579.5 V388" fill="none" stroke="#000" stroke-width="1"/>
<rect x="577" y="375" width="9" height="13" fill="#ffffcc"/>
<path d="M577.5 375 V388M581.5 375 V388M585.5 375 V388M577 375.5 H586M577 379.5 H586M577 383.5 H586M577 387.5 H586" fill="none" stroke="#000" stroke-width="1"/>
<path d="M601 379.5 H602.5 V387.5 H594.5 V386" fill="none" stroke="#000" stroke-width="1"/>
<rect x="592" y="377" width="9" height="9" fill="#ffffcc"/>
<path d="M592.5 377 V386M596.5 377 V386M600.5 377 V386M592 377.5 H601M592 381.5 H601M592 385.5 H601" fill="none" stroke="#000" stroke-width="1"/>
<rect x="590" y="389" width="1" height="2" fill="#000"/>
<rect x="594" y="389" width="1" height="1" fill="#000"/>
<rect x="576" y="391" width="1" height="5" fill="#000"/>
<rect x="583" y="391" width="1" height="5" fill="#000"/>
<rect x="576" y="393" width="8" height="1" fill="#000"/>
<rect x="578" y="392" width="1" height="3" fill="#000"/>
<rect x="581" y="392" width="1" height="3" fill="#000"/>
<rect x="577" y="401" width="4" height="3" fill="#000"/>
<rect x="582" y="403" width="1" height="1" fill="#000"/>
<rect x="584" y="403" width="2" height="1" fill="#000"/>
<rect x="585" y="399" width="1" height="5" fill="#000"/>
<rect x="584" y="400" width="3" height="1" fill="#000"/>
<rect x="577.5" y="409.5" width="3" height="2" fill="#ffffcc" stroke="#000" stroke-width="1"/>
<rect x="582" y="411" width="1" height="1" fill="#000"/>
<rect x="584" y="411" width="2" height="1" fill="#000"/>
<rect x="585" y="407" width="1" height="5" fill="#000"/>
<rect x="584" y="408" width="3" height="1" fill="#000"/>
<rect x="593.5" y="401.5" width="8" height="4" fill="#ffffcc" stroke="#000" stroke-width="1"/>
<rect x="597" y="401" width="1" height="5" fill="#000"/>
<rect x="628.5" y="212.5" width="31" height="50" fill="#ffffcc" stroke="#000" stroke-width="1"/>
<path d="M639 216.5 H640.5 V228.5 H632.5 V227" fill="none" stroke="#000" stroke-width="1"/>
<rect x="630" y="214" width="9" height="13" fill="#ffffcc"/>
<path d="M630.5 214 V227M634.5 214 V227M638.5 214 V227M630 214.5 H639M630 218.5 H639M630 222.5 H639M630 226.5 H639" fill="none" stroke="#000" stroke-width="1"/>
<rect x="632" y="220" width="1" height="1" fill="#000"/>
<rect x="632" y="224" width="1" height="1" fill="#000"/>
<rect x="636" y="220" width="1" height="1" fill="#000"/>
<rect x="636" y="224" width="1" height="1" fill="#000"/>
<path d="M656 220.5 H657.5 V228.5 H649.5 V227" fill="none" stroke="#000" stroke-width="1"/>
<rect x="647" y="218" width="9" height="9" fill="#ffffcc"/>
<path d="M647.5 218 V227M651.5 218 V227M655.5 218 V227M647 218.5 H656M647 222.5 H656M647 226.5 H656" fill="none" stroke="#000" stroke-width="1"/>
<rect x="649" y="220" width="1" height="1" fill="#000"/>
<rect x="649" y="224" width="1" height="1" fill="#000"/>
<rect x="653" y="220" width="1" height="1" fill="#000"/>
<rect x="653" y="224" width="1" height="1" fill="#000"/>
<rect x="641" y="222" width="5" height="1" fill="#000"/>
<rect x="644" y="221" width="1" height="3" fill="#000"/>
<rect x="645" y="222" width="2" height="1" fill="#000"/>
<rect x="630" y="234" width="4" height="3" fill="#000"/>
<rect x="635" y="236" width="1" height="1" fill="#000"/>
<rect x="637" y="236" width="1" height="1" fill="#000"/>
<rect x="639" y="236" width="2" height="1" fill="#000"/>
<rect x="640" y="232" width="1" height="5" fill="#000"/>
<rect x="639" y="233" width="3" height="1" fill="#000"/>
<rect x="630" y="240" width="1" height="5" fill="#000"/>
<rect x="637" y="240" width="1" height="5" fill="#000"/>
<rect x="630" y="242" width="8" height="1" fill="#000"/>
<rect x="632" y="241" width="1" height="3" fill="#000"/>
<rect x="635" y="241" width="1" height="3" fill="#000"/>
<rect x="630" y="250" width="4" height="3" fill="#000"/>
<rect x="635" y="252" width="1" height="1" fill="#000"/>
<rect x="637" y="252" width="1" height="1" fill="#000"/>
<rect x="639" y="252" width="2" height="1" fill="#000"/>
<rect x="640" y="248" width="1" height="5" fill="#000"/>
<rect x="639" y="249" width="3" height="1" fill="#000"/>
<rect x="630" y="256" width="1" height="5" fill="#000"/>
<rect x="637" y="256" width="1" height="5" fill="#000"/>
<rect x="630" y="258" width="8" height="1" fill="#000"/>
<rect x="632" y="257" width="1" height="3" fill="#000"/>
<rect x="635" y="257" width="1" height="3" fill="#000"/>
<rect x="357.5" y="488.5" width="31" height="34" fill="#ffffcc" stroke="#000" stroke-width="1"/>
<path d="M369 492.5 H370.5 V504.5 H362.5 V503" fill="none" stroke="#000" stroke-width="1"/>
<rect x="360" y="490" width="9" height="13" fill="#ffffcc"/>
<path d="M360.5 490 V503M364.5 490 V503M368.5 490 V503M360 490.5 H369M360 494.5 H369M360 498.5 H369M360 502.5 H369" fill="none" stroke="#000" stroke-width="1"/>
<rect x="360" y="510" width="4" height="3" fill="#000"/>
<rect x="365" y="512" width="1" height="1" fill="#000"/>
<rect x="367" y="512" width="2" height="1" fill="#000"/>
<rect x="368" y="508" width="1" height="5" fill="#000"/>
<rect x="367" y="509" width="3" height="1" fill="#000"/>
<rect x="360" y="518" width="4" height="3" fill="#000"/>
<rect x="365" y="520" width="1" height="1" fill="#000"/>
<rect x="367" y="520" width="2" height="1" fill="#000"/>
<rect x="368" y="516" width="1" height="5" fill="#000"/>
<rect x="367" y="517" width="3" height="1" fill="#000"/>
<rect x="377.5" y="512.5" width="4" height="4" fill="#ffffcc" stroke="#000" stroke-width="1"/>
<rect x="422" y="519" width="15" height="19" fill="#ff00ff"/>
<rect x="426" y="521" width="9" height="15" fill="#fff"/>
<path d="M453.500 513.500 L474 523.500 L453.500 533.500 Z" fill="#ffffcc" stroke="#000" stroke-width="1" shape-rendering="auto"/>
<rect x="456" y="521" width="7" height="2" fill="#000"/>
<rect x="456" y="524" width="7" height="2" fill="#000"/>
<rect x="487.5" y="515.5" width="15" height="15" fill="#ffffe0" stroke="#008000" stroke-width="1"/>
<circle cx="495" cy="523" r="5.200" fill="#ffffe0" stroke="#000" stroke-width="1" shape-rendering="auto"/>
<path d="M493.400 519.200 h3.200 l2.200 2.200 v3.200 l-2.200 2.200 h-3.200 l-2.200 -2.200 v-3.200 Z" fill="#ff0000" shape-rendering="auto"/>
<rect x="618.5" y="374.5" width="31" height="15" fill="#fff" stroke="#ff00ff" stroke-width="1"/>
<rect x="619" y="376" width="9" height="12" fill="rgba(255,150,255,.6)"/>
<rect x="624" y="377" width="3" height="1" fill="#ff00ff"/>
<rect x="624" y="377" width="1" height="10" fill="#ff00ff"/>
<rect x="624" y="386" width="3" height="1" fill="#ff00ff"/>
<path d="M621.800 378.500 L625.300 382 L621.800 385.500 Z" fill="#000" shape-rendering="auto"/>
<rect x="622.5" y="431.5" width="31" height="31" fill="#ffff99" stroke="#000" stroke-width="1"/>
<rect x="703.5" y="431.5" width="31" height="31" fill="#ffff99" stroke="#000" stroke-width="1"/>
<rect x="763.5" y="431.5" width="31" height="31" fill="#ffff99" stroke="#000" stroke-width="1"/>
<rect x="818.5" y="432.5" width="50" height="16" fill="#fff" stroke="#000" stroke-width="1"/>
<rect x="818.5" y="449.5" width="31" height="15" fill="#fff" stroke="#808000" stroke-width="1"/>
<rect x="821.5" y="452.5" width="25" height="9" fill="#fff" stroke="#808000" stroke-width="1"/>
<rect x="819" y="451" width="9" height="12" fill="rgba(140,140,20,.32)"/>
<path d="M822 453.500 L825.500 457 L822 460.500 Z" fill="#000" shape-rendering="auto"/>
<rect x="827.5" y="454.5" width="4" height="2" fill="#fff" stroke="#808000" stroke-width="1"/>
<rect x="834" y="454" width="3" height="1" fill="#808000"/>
<rect x="839" y="453" width="2" height="2" fill="#808000"/>
<rect x="826" y="458" width="3" height="2" fill="#9a9a30"/>
<rect x="832" y="457" width="4" height="3" fill="#808000"/>
<rect x="839.5" y="457.5" width="3" height="3" fill="#fff" stroke="#808000" stroke-width="1"/>
<rect x="744.5" y="220.5" width="37" height="37" fill="#fff" stroke="#ff00ff" stroke-width="1"/>
<rect x="747.5" y="223.5" width="31" height="31" fill="#e2e2e2" stroke="#ff00ff" stroke-width="1"/>
<rect x="749" y="225" width="9" height="25" fill="#000"/>
<rect x="750" y="226" width="7" height="7" fill="#cfcfcf"/>
<rect x="750" y="234" width="7" height="7" fill="#cfcfcf"/>
<rect x="750" y="242" width="7" height="7" fill="#cfcfcf"/>
<rect x="759" y="225" width="19" height="9" fill="#8c8c8c"/>
<rect x="760" y="226" width="18" height="7" fill="#bcbcbc"/>
<rect x="755.5" y="249.5" width="15" height="8" fill="#fff" stroke="#ff00ff" stroke-width="1"/>
<path d="M746.500 235.500 L750.500 239.500 L746.500 243.500 Z" fill="#fff" stroke="#000" stroke-width="1" shape-rendering="auto"/>
<rect x="897.500" y="223.500" width="39" height="38" fill="#fff" stroke="#000" stroke-width="1" stroke-dasharray="4 3"/>
<rect x="898.5" y="224.5" width="37" height="36" fill="#fff" stroke="#ff8000" stroke-width="1"/>
<rect x="901.5" y="226.5" width="31" height="31" fill="#b4b4b4" stroke="#ff8000" stroke-width="1"/>
<rect x="902" y="227" width="30" height="1" fill="#e8e8e8"/>
<rect x="902" y="227" width="1" height="30" fill="#e8e8e8"/>
<rect x="902" y="255" width="30" height="2" fill="#8a8a8a"/>
<rect x="930" y="228" width="2" height="28" fill="#8a8a8a"/>
<rect x="909" y="229" width="19" height="19" fill="#000"/>
<path d="M910 240.500 H914 L916.500 234 L918.500 242 L920.500 238.500 L922.500 244.500 L924 240.500 H927" fill="none" stroke="#fff" stroke-width="1" shape-rendering="auto"/>
<path d="M916.500 232 V241" fill="none" stroke="#fff" stroke-width="1"/>
<rect x="909.5" y="252.5" width="16" height="8" fill="#fff" stroke="#ff8000" stroke-width="1"/>
<path d="M899.500 236.500 L903.500 240.500 L899.500 244.500 Z" fill="#fff" stroke="#000" stroke-width="1" shape-rendering="auto"/>
<rect x="897.500" y="205.500" width="132" height="18" fill="#fff" stroke="#000" stroke-width="1" stroke-dasharray="4 3"/>
</svg>
<div class="t" id="l_col1" style="left:90.3px;top:388.54px;font-size:12px;color:#0000ff;letter-spacing:.2px">Column</div>
<div class="t" style="left:100.5px;top:405.74px;font-size:12px;color:#0000ff;letter-spacing:-.4px">Row</div>
<div class="t" id="l_col2" style="left:132.3px;top:508.54px;font-size:12px;color:#0000ff;letter-spacing:.2px">Column</div>
<div class="t" style="left:142.5px;top:525.74px;font-size:12px;color:#0000ff;letter-spacing:-.4px">Row</div>
<div class="t" style="left:27.5px;top:371.84px;font-size:12px;color:#9a3300;letter-spacing:-.2px">Start</div>
<div class="t" style="left:98.7px;top:480.64px;font-size:12px;color:#9a3300;letter-spacing:-.3px">End</div>
<div class="t" style="left:72px;top:389.64px;font-size:12px;color:#000;">1</div>
<div class="t" style="left:114px;top:509.64px;font-size:12px;color:#000;">3</div>
<div class="t" style="left:335px;top:505.64px;font-size:12px;color:#000;">0</div>
<div class="t" style="left:336px;top:521.64px;font-size:12px;color:#000;">0</div>
<div class="t" style="left:600px;top:254.64px;font-size:12px;color:#000;">0</div>
<div class="t" style="left:609px;top:285.64px;font-size:12px;color:#000;">1</div>
<div class="t" id="l_ring" style="left:230px;top:467.24px;font-size:12px;color:#000;letter-spacing:-.3px">2D String</div>
<div class="t" id="l_getcell" style="left:247px;top:450.23px;font-size:8px;color:#000;-webkit-text-stroke:.25px #000;letter-spacing:-.1px">Get Cell</div>
<div class="t" style="left:621px;top:433.03px;width:32px;text-align:center;font-size:8px;-webkit-text-stroke:.25px #000">Close</div>
<div class="t" style="left:621px;top:443.03px;width:32px;text-align:center;font-size:8px;-webkit-text-stroke:.25px #000">XL</div>
<div class="t" style="left:621px;top:453.03px;width:32px;text-align:center;font-size:8px;-webkit-text-stroke:.25px #000">WorkS</div>
<div class="t" style="left:702px;top:433.83px;width:32px;text-align:center;font-size:8px;-webkit-text-stroke:.25px #000">Close</div>
<div class="t" style="left:702px;top:443.83px;width:32px;text-align:center;font-size:8px;-webkit-text-stroke:.25px #000">XL</div>
<div class="t" style="left:702px;top:453.83px;width:32px;text-align:center;font-size:8px;-webkit-text-stroke:.25px #000">Wkbk</div>
<div class="t" style="left:762px;top:432.03px;width:32px;text-align:center;font-size:8px;-webkit-text-stroke:.25px #000">Close</div>
<div class="t" style="left:762px;top:442.03px;width:32px;text-align:center;font-size:8px;-webkit-text-stroke:.25px #000">XL</div>
<div class="t" style="left:762px;top:452.03px;width:32px;text-align:center;font-size:8px;-webkit-text-stroke:.25px #000">App</div>
<div class="t" id="l_err" style="left:820.5px;top:434.64px;font-size:12px;color:#000;">error out</div>
<div class="t" id="l_array" style="left:619px;top:359.84px;font-size:12px;color:#000;">Array</div>
<div class="t" id="l_teil" style="left:745px;top:205.84px;font-size:12px;color:#000;letter-spacing:.2px">Teil-Array</div>
<div class="t" id="l_sig" style="left:899.3px;top:208.64px;font-size:12px;color:#000;letter-spacing:-.05px">Signalverlaufsdiagramm</div>
<div class="t" id="l_spalte" style="left:281.3px;top:204.7px;font-size:13px;color:#000;letter-spacing:.42px">1.spalte</div>
<div class="t" id="l_q" style="left:954.8px;top:124.65px;font-size:30.3px;color:#000;transform:scaleX(.745);transform-origin:0 0">????</div>
<div class="t" style="left:627px;top:377.26px;font-size:9.5px;color:#ff00ff;font-weight:bold;font-family:Liberation Serif,serif;letter-spacing:.6px;-webkit-text-stroke:.3px #ff00ff">abc]</div>
<div class="t" style="left:757px;top:249.73px;font-size:8px;color:#ff00ff;font-family:Liberation Mono,monospace;letter-spacing:-.5px">abc</div>
<div class="t" style="left:761.5px;top:226.15px;font-size:7.5px;color:#000;font-weight:bold;font-family:Liberation Mono,monospace;letter-spacing:0">123</div>
<div class="t" style="left:752px;top:225.23px;font-size:8px;color:#000;font-weight:bold">i</div>
<div class="t" style="left:752px;top:233.23px;font-size:8px;color:#000;font-weight:bold">j</div>
<div class="t" style="left:751.5px;top:241.73px;font-size:8px;color:#000;font-weight:bold">k</div>
<div class="t" style="left:911px;top:252.93px;font-size:8px;color:#ff8000;font-weight:bold;letter-spacing:-.3px">DBL</div>
<div class="t" style="left:903.5px;top:228.34px;font-size:5.5px;color:#000;font-weight:bold">2</div>
<div class="t" style="left:903.5px;top:236.84px;font-size:5.5px;color:#000;font-weight:bold">1</div>
<div class="t" style="left:903.5px;top:244.34px;font-size:5.5px;color:#000;font-weight:bold">0</div>
<div class="t" style="left:908px;top:250.27px;font-size:5px;color:#000;font-weight:bold">0.0</div>
<div class="t" style="left:920px;top:250.27px;font-size:5px;color:#000;font-weight:bold">1.0</div>
<svg class="abs" style="left:0;top:70px" width="1262" height="895" viewBox="0 70 1262 895">
<ellipse cx="639.500" cy="238.800" rx="59.300" ry="91.300" fill="none" stroke="#000" stroke-width="5.400"/>
<ellipse cx="767.200" cy="233.700" rx="50.200" ry="83.300" fill="none" stroke="#000" stroke-width="5.400"/>
<circle cx="620" cy="292" r="15.800" fill="none" stroke="#000" stroke-width="5"/>
<path d="M404.300 225 L603 295.500" fill="none" stroke="#000" stroke-width="4.600" stroke-linecap="round"/>
<path d="M551.300 259.500 L557.500 278.800 L534 288" fill="none" stroke="#000" stroke-width="4.600" stroke-linecap="round" stroke-linejoin="round"/>
<path d="M816.500 133.500 H867 V127.500 L916.500 140 L867 152 V146.500 H816.500 Z" fill="none" stroke="#000" stroke-width="5" stroke-linejoin="round"/>
<circle cx="392" cy="155" r="3" fill="#fff" stroke="#000" stroke-width="2"/>
</svg>
<!--DIAGRAM-END-->
<!-- watermark -->
<div class="abs" id="wm" style="left:900px;top:884px;width:362px;height:81px;overflow:hidden">
<svg class="abs" style="left:0;top:0" width="362" height="81" viewBox="900 884 362 81">
 <g fill="none" stroke="#7e7e7e" stroke-width="2.200" stroke-linecap="round" stroke-linejoin="round" style="filter:blur(.8px)">
  <path d="M912 886 L936.800 915.500 V922 Q927 928.500 923 937"/>
  <path d="M940 888 L957.800 909.800 Q958.300 911 956.500 912 L942 918.500 Q940 919 938.500 917.500"/>
  <path d="M961 884 Q957 895 957.500 906"/>
 </g>
</svg>
<div class="t wmt" id="wm1" style="left:69.500px;top:-4.100px;font-size:23.300px;letter-spacing:.2px">NATIONAL</div>
<div class="t wmt" id="wm2" style="left:62px;top:19.700px;font-size:23.300px;letter-spacing:.2px">INSTRUMENTS<span style="font-size:5.500px;vertical-align:13px;letter-spacing:0">TM</span></div>
<div class="t wmt" id="wm3" style="left:35.800px;top:49.600px;font-size:23.700px;transform:scaleX(.882);transform-origin:0 0">LabVIEW<span style="font-size:5.500px;vertical-align:12px;margin:0 9px 0 9px">TM</span>Evaluierungsversion</div>
</div>

<!--HELP-START-->
<div class="abs" style="left:784px;top:581px;width:331px;height:311px;background:linear-gradient(135deg,#f4f4f4 0,#ececec 40%,#e8e8e8 100%);border:1px solid #6c6c6c;box-shadow:inset 0 0 0 1px rgba(255,255,255,.8),0 0 9px 2px rgba(0,0,0,.22),2px 3px 7px rgba(0,0,0,.2)"></div>
<div class="abs" style="left:792px;top:607px;width:315px;height:277px;background:#fff;border:1px solid #3a3a3a"></div>
<div class="abs" style="left:1089px;top:608px;width:17px;height:258px;background:linear-gradient(to right,#e8e8e8 0,#f0f0f0 4px,#efefef 100%)"></div>
<div class="abs" style="left:793px;top:865px;width:313px;height:18px;background:linear-gradient(to bottom,#e8e8e8 0,#f0f0f0 4px,#efefef 100%)"></div>
<div class="abs" style="left:1089px;top:866px;width:17px;height:17px;background:#f0f0f0"></div>
<div class="abs" style="left:1090px;top:588px;width:17px;height:17px;background:linear-gradient(to bottom,#f6f6f6,#e9e9e9);border:1px solid #8a8a8a;border-radius:3px;box-shadow:inset 0 0 0 1px rgba(255,255,255,.9)"></div>
<div class="abs" style="left:794px;top:865px;width:17px;height:17px;background:#e4e4e4;border:1px solid #000"></div>
<div class="abs" style="left:810px;top:865px;width:17px;height:17px;background:#e4e4e4;border:1px solid #000"></div>
<div class="abs" style="left:826px;top:865px;width:17px;height:17px;background:#e4e4e4;border:1px solid #000"></div>
<svg class="abs" style="left:784px;top:581px" width="331" height="311" viewBox="784 581 331 311">
 <path d="M1095 593 h2.200 l1.300 1.400 l1.300 -1.400 h2.200 v1.800 l-1.600 1.700 l1.600 1.700 v1.800 h-2.200 l-1.300 -1.400 l-1.300 1.400 h-2.200 v-1.800 l1.600 -1.700 l-1.600 -1.700 Z" fill="#fff" stroke="#4c5068" stroke-width="1.100" stroke-linejoin="round"/>
 <path d="M1094 619 L1097.500 615.500 L1101 619 Z" fill="#505050"/>
 <path d="M1094 855.500 L1101 855.500 L1097.500 859 Z" fill="#505050"/>
 <path d="M853 870 L849.500 873.500 L853 877 Z" fill="#505050"/>
 <path d="M1078.500 870 L1082 873.500 L1078.500 877 Z" fill="#505050"/>
 <g fill="#a8a8a8"><rect x="1101" y="873" width="1" height="1"/><rect x="1098" y="876" width="1" height="1"/><rect x="1101" y="876" width="1" height="1"/><rect x="1095" y="879" width="1" height="1"/><rect x="1098" y="879" width="1" height="1"/><rect x="1101" y="879" width="1" height="1"/></g>
 <!-- table lines -->
 <g shape-rendering="crispEdges"><rect x="860" y="666" width="1" height="59" fill="#808080"/><rect x="828" y="676" width="235" height="1" fill="#808080"/>
 <!-- bundle illustration -->
 <path d="M850 763.500 H869.500 V766 M850 778.500 H863 M850 793.500 H869.500 V791" fill="none" stroke="#ff6633" stroke-width="1"/>
 <rect x="863.500" y="766.500" width="31" height="24" fill="#ffffcc" stroke="#000" stroke-width="1"/>
 <rect x="864" y="767" width="15" height="23" fill="#fff"/>
 <rect x="864" y="774" width="15" height="1" fill="#000"/><rect x="864" y="782" width="15" height="1" fill="#000"/>
 <rect x="879" y="767" width="1" height="23" fill="#000"/><rect x="886" y="767" width="1" height="23" fill="#000"/>
 <rect x="895" y="776" width="20" height="3" fill="#ff00ff"/></g>
 <path d="M896 777.500 H915" stroke="#fff" stroke-width="1" stroke-dasharray="2 2" shape-rendering="crispEdges"/>
 <path d="M880 776 h4 q2 0 2 2.500 q0 2.500 -2 2.500 h-4 Z" fill="#000"/><rect x="880" y="777" width="2" height="3" fill="#fff"/>
 <path d="M885 778.500 H890" stroke="#000" stroke-width="2.400"/><path d="M888.500 774.500 L894 778.500 L888.500 782.500 Z" fill="#000"/>
 <g font-family="Liberation Sans, sans-serif" font-size="7.500" font-weight="bold" fill="#ff5522" letter-spacing="-.2"><text x="865" y="773.300">DBL</text><text x="865" y="781.300">DBL</text><text x="865" y="789.300">DBL</text></g>
 <!-- link underline -->
 <rect x="886" y="855" width="100" height="1" fill="#0000ff" shape-rendering="crispEdges"/>
 <!-- small button icons -->
 <g shape-rendering="crispEdges"><rect x="796" y="869" width="11" height="1" fill="#e00000"/><rect x="796" y="872" width="6" height="1" fill="#0000e0"/><rect x="796" y="875" width="11" height="1" fill="#e00000"/><rect x="796" y="878" width="6" height="1" fill="#0000e0"/>
 <rect x="799.500" y="870.500" width="5" height="6" fill="#fff" stroke="#000" stroke-width="1"/><rect x="801" y="872" width="2" height="3" fill="#000"/><rect x="802" y="873" width="1" height="1" fill="#fff"/></g>
 <rect x="814.500" y="873.500" width="8" height="5" fill="#d8d8d8" stroke="#000" stroke-width="1.200"/><path d="M815.500 873 V870.500 Q815.500 868.500 818 868.500 Q820.500 868.500 820.500 870.500" fill="none" stroke="#000" stroke-width="1.300"/><rect x="817" y="875" width="3" height="2" fill="#000"/>
 <text x="834.500" y="879.500" text-anchor="middle" font-family="Liberation Sans, sans-serif" font-weight="bold" font-size="15" fill="#0000ff">?</text>
</svg>
<div class="t" id="h1" style="left:812px;top:633.03px;font-size:10px;color:#3b2c12;font-weight:bold;-webkit-text-stroke:.12px #3b2c12;letter-spacing:1.021px">Kurvendiagramm:</div>
<div class="t" id="h2" style="left:812px;top:648.4px;font-size:8.5px;color:#3b2c12;-webkit-text-stroke:.12px #3b2c12;letter-spacing:0.761px">Direkte Verbindung zum Kurvendiagramm:</div>
<div class="t" id="h3a" style="left:827.8px;top:665.9px;font-size:8.5px;color:#000;-webkit-text-stroke:.12px #000;letter-spacing:0.522px">Daten</div>
<div class="t" id="h3b" style="left:864.5px;top:665.9px;font-size:8.5px;color:#000;-webkit-text-stroke:.12px #000;letter-spacing:0.749px">Resultierendes Kurvendiagramm</div>
<div class="t" id="h4a" style="left:828.4px;top:680.3px;font-size:8.5px;color:#3b2c12;-webkit-text-stroke:.12px #3b2c12;letter-spacing:0.816px">Skalar</div>
<div class="t" id="h4b" style="left:865.6px;top:680.1px;font-size:8.5px;color:#3b2c12;-webkit-text-stroke:.12px #3b2c12;letter-spacing:0.733px">eine Kurve, ein Punkt</div>
<div class="t" id="h5a" style="left:828.8px;top:692.15px;font-size:8.5px;color:#3b2c12;-webkit-text-stroke:.12px #3b2c12;letter-spacing:0.717px">1D</div>
<div class="t" id="h5b" style="left:865.6px;top:692.15px;font-size:8.5px;color:#000;-webkit-text-stroke:.12px #000;letter-spacing:0.768px">eine Kurve, ein oder mehrere Punkt(e)</div>
<div class="t" id="h6a" style="left:828.8px;top:704.2px;font-size:8.5px;color:#3b2c12;-webkit-text-stroke:.12px #3b2c12;letter-spacing:-0.018px">WDT</div>
<div class="t" id="h6b" style="left:865.6px;top:704.2px;font-size:8.5px;color:#000;-webkit-text-stroke:.12px #000;letter-spacing:0.768px">eine Kurve, ein oder mehrere Punkt(e)</div>
<div class="t" id="h7a" style="left:828.8px;top:716.2px;font-size:8.5px;color:#3b2c12;-webkit-text-stroke:.12px #3b2c12;letter-spacing:0.86px">2D</div>
<div class="t" id="h7b" style="left:865.6px;top:716.2px;font-size:8.5px;color:#000;-webkit-text-stroke:.12px #000;letter-spacing:0.812px">mehrere Kurven, ein oder mehrere Punkt(e)</div>
<div class="t" id="h8" style="left:812px;top:728.9px;font-size:8.5px;color:#000;-webkit-text-stroke:.12px #000;letter-spacing:0.696px">WDT (Waveform Data Type) beinhaltet Zeitachse.</div>
<div class="t" id="h9" style="left:812px;top:744.2px;font-size:8.5px;color:#000;-webkit-text-stroke:.12px #000;letter-spacing:0.814px">Oder bündeln Sie die Punkte mit <b>Elemente bündeln</b>:</div>
<div class="t" id="h10" style="left:813.8px;top:757.8px;font-size:8.5px;color:#000;-webkit-text-stroke:.12px #000;letter-spacing:0.61px">Punkt 1</div>
<div class="t" id="h11" style="left:835.6px;top:773.9px;font-size:8.5px;color:#000;-webkit-text-stroke:.12px #000;letter-spacing:0.302px">...</div>
<div class="t" id="h12" style="left:813.8px;top:789px;font-size:8.5px;color:#000;-webkit-text-stroke:.12px #000;letter-spacing:0.507px">Punkt N</div>
<div class="t" id="h13" style="left:921.9px;top:769px;font-size:8.5px;color:#000;-webkit-text-stroke:.12px #000;letter-spacing:0.776px">Kurvendiagramm</div>
<div class="t" id="h14" style="left:921.9px;top:780.9px;font-size:8.5px;color:#000;-webkit-text-stroke:.12px #000;letter-spacing:0.905px">(mehrere Kurven)</div>
<div class="t" id="h15" style="left:812px;top:809.65px;font-size:8.5px;color:#000;-webkit-text-stroke:.12px #000;letter-spacing:0.589px">Oder nutzen Sie die Zeitachse im WDT.</div>
<div class="t" id="h16" style="left:832.8px;top:827.03px;font-size:10px;color:#3b2c12;font-weight:bold;-webkit-text-stroke:.12px #3b2c12;letter-spacing:0.783px">Siehe Beispiel: Charts.vi</div>
<div class="t" id="h17" style="left:886px;top:843.64px;font-size:12px;color:#0000ff;font-weight:bold;letter-spacing:-0.116px">Ausführliche Hilfe</div>
<div class="t" id="h0" style="left:794.4px;top:588.59px;font-size:12px;color:#000;letter-spacing:0.124px">Kontexthilfe</div>
<!--HELP-END-->
<div id="bborder"></div><div id="bborder2"></div>
</body>
</html>
